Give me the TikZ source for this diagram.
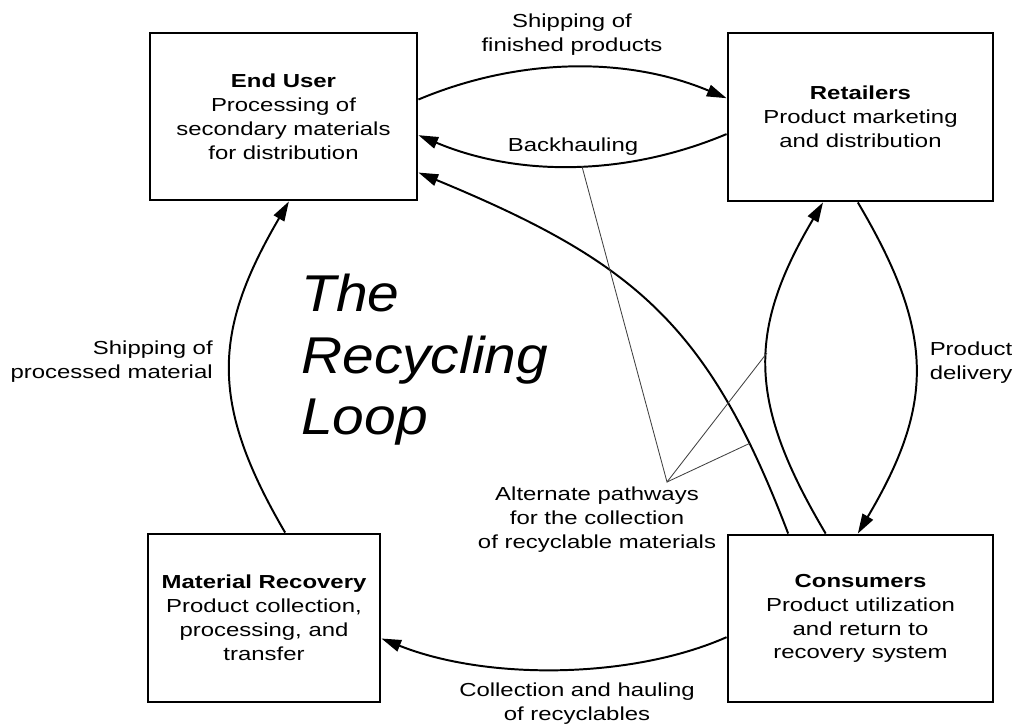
\documentclass[tikz,border=0pt]{standalone}
\usepackage{fontspec}
\setmainfont{Liberation Sans}[FakeStretch=1.27]
\newfontfamily\loopfont{Liberation Sans}[FakeStretch=1.1]
\usetikzlibrary{arrows.meta,calc}

\tikzset{
  stagebox/.style={draw, line width=2pt, align=center, inner sep=0pt},
  flow/.style={line width=1.4pt, -{Triangle[length=14pt,width=8.5pt]}},
  pointer/.style={line width=0.6pt, black!75},
  lbl/.style={align=center, inner sep=0pt}
}

\begin{document}
\begin{tikzpicture}[x=0.025cm, y=-0.025cm, font=\fontsize{13.4}{17}\selectfont]
\useasboundingbox (0,0) rectangle (1020,727);

% the four stages of the loop
\node[stagebox, minimum width=6.675cm, minimum height=4.175cm] (enduser) at (283.5,116.5)
  {\textbf{End User}\\Processing of\\secondary materials\\for distribution};
\node[stagebox, minimum width=6.625cm, minimum height=4.2cm] (retailers) at (860.5,117)
  {\textbf{Retailers}\\Product marketing\\and distribution};
\node[stagebox, minimum width=6.625cm, minimum height=4.175cm] (consumers) at (860.5,618.5)
  {\textbf{Consumers}\\Product utilization\\and return to\\recovery system};
\node[stagebox, minimum width=5.8cm, minimum height=4.2cm] (recovery) at (264,618)
  {\textbf{Material Recovery}\\Product collection,\\processing, and\\transfer};

% flows between the stages
\draw[flow] ($(enduser.north east)!.40!(enduser.south east)$)
  .. controls +(100,-42) and +(-100,-42) .. ($(retailers.north west)!.39!(retailers.south west)$);
\draw[flow] ($(retailers.north west)!.60!(retailers.south west)$)
  .. controls +(-100,42) and +(100,42) .. ($(enduser.north east)!.61!(enduser.south east)$)
  coordinate[pos=.47] (bh);
\draw[flow] ($(consumers.north west)!.23!(consumers.north east)$)
  .. controls +(-80,-210) and +(215,89) .. ($(enduser.north east)!.83!(enduser.south east)$)
  coordinate[pos=.16] (lp);
\draw[flow] ($(consumers.north west)!.37!(consumers.north east)$)
  .. controls +(-77,-130) and +(-77,130) .. ($(retailers.south west)!.36!(retailers.south east)$)
  coordinate[pos=.55] (cr);
\draw[flow] ($(retailers.south west)!.49!(retailers.south east)$)
  .. controls +(77,130) and +(77,-130) .. ($(consumers.north west)!.49!(consumers.north east)$);
\draw[flow] ($(consumers.north west)!.61!(consumers.south west)$)
  .. controls +(-95,42) and +(105,42) .. ($(recovery.north east)!.62!(recovery.south east)$);
\draw[flow] ($(recovery.north west)!.59!(recovery.north east)$)
  .. controls +(-76,-130) and +(-76,130) .. ($(enduser.south west)!.52!(enduser.south east)$);

% labels
\node[lbl] (finished) at (572,35) {Shipping of\\finished products};
\node[lbl] (backhaul) at (573,147) {Backhauling};
\node[lbl] (delivery) at (971,363) {Product\\delivery};
\node[lbl, align=right, anchor=east] (processed) at (213,362) {Shipping of\\processed material};
\node[lbl] (alternate) at (597,520) {Alternate pathways\\for the collection\\of recyclable materials};
\node[lbl] (hauling) at (577,704) {Collection and hauling\\of recyclables};
\node[lbl, align=left, anchor=west, font=\loopfont\itshape\fontsize{36.8}{43.7}\selectfont]
  (title) at (301,360) {The\\Recycling\\Loop};

% alternate pathways pointers
\coordinate (apex) at (667,482);
\draw[pointer] (bh) -- (apex) -- (cr);
\draw[pointer] (apex) -- (lp);
\end{tikzpicture}
\end{document}
